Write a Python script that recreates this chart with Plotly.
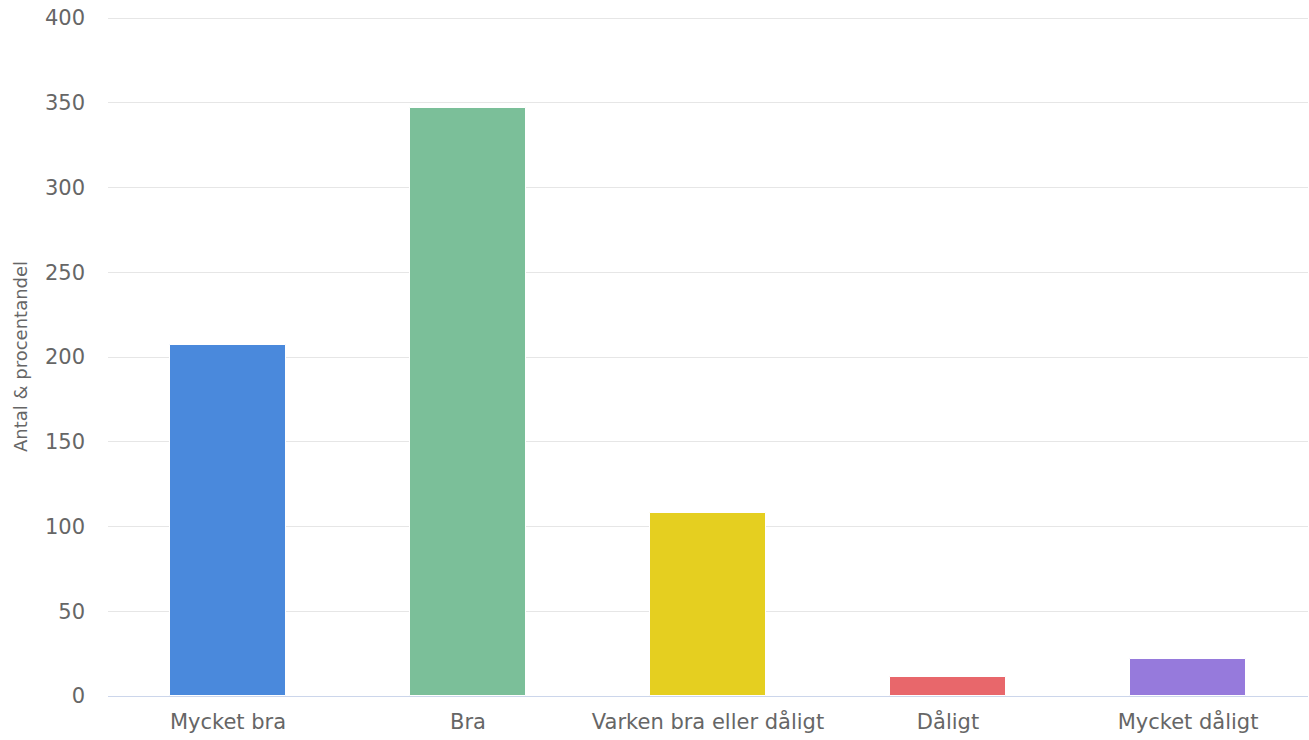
import plotly.graph_objects as go

categories = ["Mycket bra", "Bra", "Varken bra eller dåligt", "Dåligt", "Mycket dåligt"]
values = [207, 347, 108, 11, 22]
colors = ["#4a89dc", "#7bbf99", "#e5cf20", "#e8676b", "#967adc"]
y_ticks = [0, 50, 100, 150, 200, 250, 300, 350, 400]

fig = go.Figure(go.Bar(
    x=categories, y=values,
    marker=dict(color=colors, line=dict(color="#ffffff", width=1)),
    width=0.48,
))

font_family = "DejaVu Sans"
fig.update_layout(
    width=1309, height=740,
    margin=dict(l=108, r=1, t=17, b=44),
    plot_bgcolor="#ffffff", paper_bgcolor="#ffffff",
    showlegend=False,
    font=dict(family=font_family, color="#666666"),
    bargap=0,
)
fig.update_yaxes(
    range=[0, 400.6], tickvals=y_ticks,
    gridcolor="#e6e6e6", gridwidth=1,
    zeroline=False, showline=False,
    tickfont=dict(size=21, color="#666666"),
    ticklabelstandoff=22,
    title=dict(text="Antal & procentandel", font=dict(size=18, color="#666666"), standoff=12),
)
fig.update_xaxes(
    showline=True, linecolor="#ccd6eb", linewidth=1,
    showgrid=False,
    tickfont=dict(size=21, color="#666666"),
    ticklabelstandoff=7,
)
fig.write_html("out.html", config={"displayModeBar": False},
               post_script="document.body.style.margin='0';document.body.style.padding='0';")
